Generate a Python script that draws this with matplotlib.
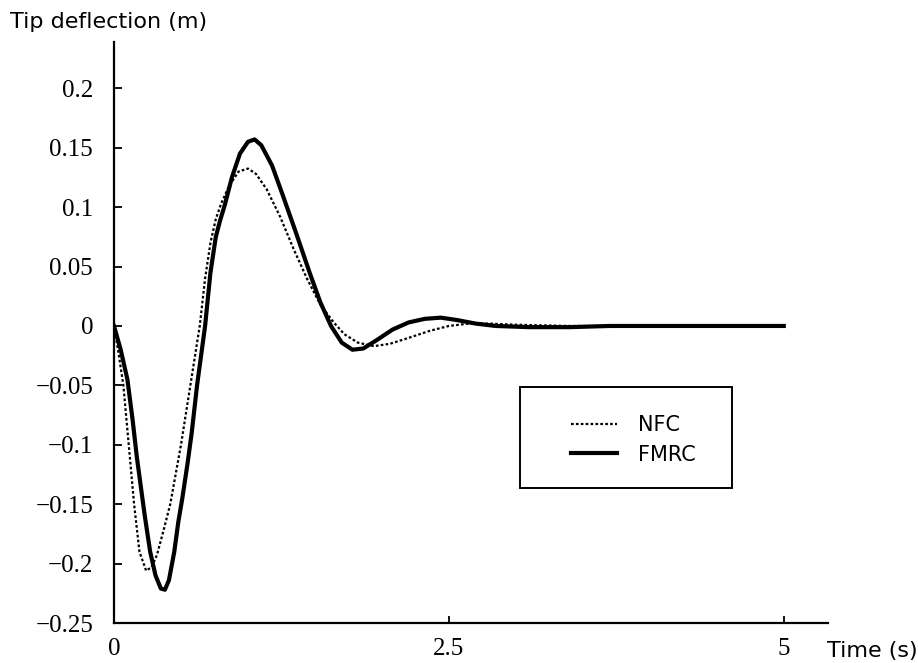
import matplotlib
matplotlib.use("Agg")
import matplotlib.pyplot as plt
from matplotlib.patches import Rectangle

# Tip deflection responses, time in s, deflection in m
t_nfc = [0.00, 0.03, 0.07, 0.11, 0.15, 0.19, 0.24, 0.28, 0.32, 0.37, 0.42, 0.46,
         0.50, 0.57, 0.64, 0.68, 0.72, 0.76, 0.80, 0.86, 0.93, 1.00, 1.06, 1.14,
         1.24, 1.34, 1.44, 1.54, 1.64, 1.72, 1.82, 1.94, 2.06, 2.20, 2.36, 2.50,
         2.65, 2.80, 3.00, 3.40, 4.00, 5.00]
y_nfc = [0.000, -0.020, -0.050, -0.100, -0.150, -0.190, -0.206, -0.203, -0.193, -0.172, -0.150, -0.125,
         -0.100, -0.050, 0.000, 0.040, 0.070, 0.090, 0.103, 0.118, 0.130, 0.1325, 0.128, 0.115,
         0.092, 0.065, 0.040, 0.018, 0.003, -0.007, -0.014, -0.017, -0.015, -0.010, -0.004, 0.000,
         0.002, 0.002, 0.001, 0.000, 0.000, 0.000]

t_fmrc = [0.00, 0.05, 0.10, 0.14, 0.17, 0.20, 0.23, 0.27, 0.31, 0.35, 0.38, 0.41,
          0.45, 0.48, 0.51, 0.55, 0.58, 0.62, 0.68, 0.72, 0.76, 0.79, 0.83, 0.88,
          0.94, 1.00, 1.05, 1.10, 1.18, 1.26, 1.36, 1.46, 1.54, 1.62, 1.70, 1.78,
          1.86, 1.96, 2.08, 2.20, 2.32, 2.44, 2.56, 2.70, 2.85, 3.10, 3.40, 3.70,
          4.20, 5.00]
y_fmrc = [0.000, -0.020, -0.045, -0.080, -0.110, -0.135, -0.160, -0.190, -0.210, -0.221, -0.222, -0.214,
          -0.190, -0.165, -0.145, -0.115, -0.090, -0.050, 0.000, 0.045, 0.075, 0.088, 0.103, 0.125,
          0.145, 0.155, 0.157, 0.152, 0.135, 0.110, 0.078, 0.045, 0.020, 0.000, -0.014, -0.020,
          -0.019, -0.012, -0.003, 0.003, 0.006, 0.007, 0.005, 0.002, 0.000, -0.001, -0.001, 0.000,
          0.000, 0.000]

x_ticks = [0, 2.5, 5]
x_ticklabels = ["0", "2.5", "5"]
y_ticks = [0.2, 0.15, 0.1, 0.05, 0, -0.05, -0.1, -0.15, -0.2, -0.25]
y_ticklabels = ["0.2", "0.15", "0.1", "0.05", "0", "\u22120.05", "\u22120.1",
                "\u22120.15", "\u22120.2", "\u22120.25"]

W, H = 918, 663
fig = plt.figure(figsize=(W / 100, H / 100), dpi=100)
ax = fig.add_axes([114 / W, 1 - 623 / H, (828 - 114) / W, (623 - 42) / H])

ax.plot(t_nfc, y_nfc, color="black", lw=1.6, ls=(0, (1.2, 1.0)), label="NFC")
ax.plot(t_fmrc, y_fmrc, color="black", lw=3.0, label="FMRC")

ax.set_xlim(0, 5.33)
ax.set_ylim(-0.25, 0.239)

for side in ("top", "right"):
    ax.spines[side].set_visible(False)
for side in ("left", "bottom"):
    ax.spines[side].set_linewidth(1.6)

serif = "Liberation Serif"
ax.set_xticks(x_ticks)
ax.set_xticklabels(x_ticklabels, family=serif, fontsize=18)
ax.set_yticks(y_ticks)
ax.set_yticklabels(y_ticklabels, family=serif, fontsize=18)
ax.tick_params(axis="y", direction="in", length=6, width=1.3, pad=15)
ax.tick_params(axis="x", direction="in", length=5, width=1.3, pad=11)

fig.text(10 / W, 1 - 22 / H, "Tip deflection (m)", fontsize=16, va="center", ha="left")
fig.text(827 / W, 1 - 651 / H, "Time (s)", fontsize=16, va="center", ha="left")

# legend entries without frame, with a plain box drawn around them
leg = ax.legend(loc="center left", bbox_to_anchor=(0.64, 0.315), fontsize=15,
                frameon=False, handlelength=2.2, borderpad=0, labelspacing=0.45,
                handletextpad=1.0, borderaxespad=0)
ax.add_patch(Rectangle((0.5686, 0.2324), 0.8655 - 0.5686, 0.4062 - 0.2324,
                       transform=ax.transAxes, fill=False, edgecolor="black",
                       linewidth=1.4, zorder=5))

fig.savefig("out.png", dpi=100)
